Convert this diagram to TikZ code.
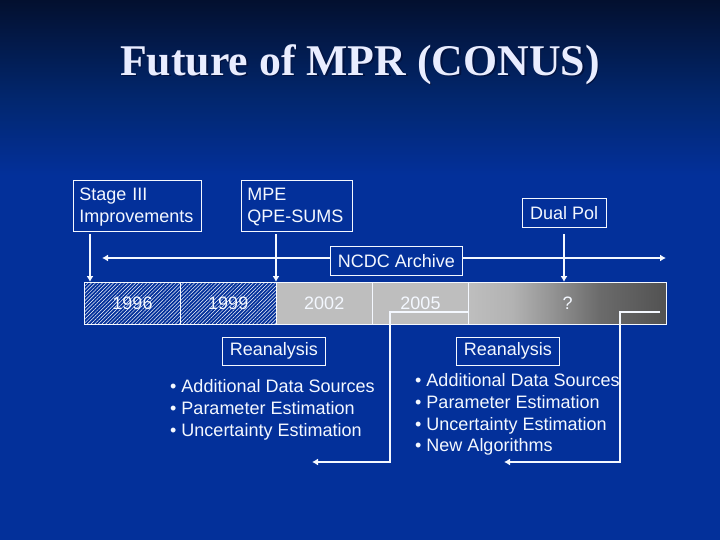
\documentclass[tikz,border=0pt]{standalone}
\usepackage{fontspec}
\setmainfont{Liberation Sans}
\newfontfamily\titlefont{Liberation Serif}
\usetikzlibrary{arrows.meta,patterns.meta,calc}
\definecolor{bgtop}{HTML}{03102F}
\definecolor{bgmid}{HTML}{02276F}
\definecolor{bgbase}{HTML}{03309A}
\definecolor{ink}{HTML}{F4F8FF}
\definecolor{cellgrey}{HTML}{BEBEBE}
\definecolor{titleink}{HTML}{E9EDFF}
\definecolor{titleshade}{HTML}{02123F}
\pgfdeclarehorizontalshading{futurefade}{100bp}{
  color(0bp)=(cellgrey);
  color(25bp)=(cellgrey);
  color(36bp)=(black!30);
  color(46bp)=(black!42);
  color(58bp)=(black!58);
  color(75bp)=(black!68);
  color(100bp)=(black!68)}
\tikzset{
  x=1pt,y=-1pt,
  labelbox/.style={draw=ink,line width=.9pt,fill=bgbase,text=ink,font=\fontsize{18}{21.7}\selectfont,inner sep=0pt,anchor=north west,align=left},
  link/.style={draw=ink,line width=1.7pt},
  linkarrow/.style={link,-{Latex[length=6pt,width=7pt]}},
  cellbox/.style={draw=ink,line width=.9pt,inner sep=0pt,outer sep=0pt,anchor=north west,minimum height=42pt,text=ink,font=\fontsize{18}{20}\selectfont},
  hatched/.style={pattern={Lines[angle=45,distance=2.6pt,line width=.5pt]},pattern color=ink!85},
  bullets/.style={text=ink,font=\fontsize{18}{21.7}\selectfont,align=left,inner sep=0pt,anchor=north west},
}
\begin{document}
\begin{tikzpicture}
\useasboundingbox (0,0) rectangle (720,540);
\fill[bgbase] (0,0) rectangle (720,540);
\shade[top color=bgtop,bottom color=bgmid] (0,0) rectangle (720,100);
\shade[top color=bgmid,bottom color=bgbase] (0,100) rectangle (720,175);
% title
\node[text=titleshade,font=\titlefont\bfseries\fontsize{43.8}{46}\selectfont] at (361.5,66) {Future of MPR (CONUS)};
\node[text=titleink,font=\titlefont\bfseries\fontsize{43.8}{46}\selectfont] (title) at (360,64.5) {Future of MPR (CONUS)};
% timeline cells
\node[cellbox,minimum width=96pt,hatched] (c96) at (84.5,282.5) {1996};
\node[cellbox,minimum width=95.5pt,hatched] (c99) at (180.5,282.5) {1999};
\node[cellbox,minimum width=96.5pt,fill=cellgrey] (c02) at (276,282.5) {2002};
\node[cellbox,minimum width=96pt,fill=cellgrey] (c05) at (372.5,282.5) {2005};
\node[cellbox,minimum width=198pt,shading=futurefade] (cq) at (468.5,282.5) {?};
% label boxes
\node[labelbox,minimum width=128.5pt,minimum height=51pt,text width=115.5pt,inner xsep=6.5pt] (stage) at (72.5,180) {\rule{0pt}{18.2pt}Stage III\\\strut Improvements};
\node[labelbox,minimum width=111pt,minimum height=51pt,text width=98pt,inner xsep=6.5pt] (mpe) at (240.5,180) {\rule{0pt}{18.2pt}MPE\\\strut QPE-SUMS};
\node[labelbox,minimum width=83.5pt,minimum height=29pt,align=center] (dual) at (522,198.5) {Dual Pol};
\node[labelbox,minimum width=132pt,minimum height=29pt,align=center] (ncdc) at (330,246) {NCDC Archive};
\node[labelbox,minimum width=103pt,minimum height=28.5pt,align=center] (re1) at (222,336.5) {Reanalysis};
\node[labelbox,minimum width=103pt,minimum height=28.5pt,align=center] (re2) at (456,336.5) {Reanalysis};
% bullet lists
\node[bullets] (list1) at (170,379.5) {• Additional Data Sources\\• Parameter Estimation\\• Uncertainty Estimation};
\node[bullets] (list2) at (415,373.5) {• Additional Data Sources\\• Parameter Estimation\\• Uncertainty Estimation\\• New Algorithms};
% coordinates
\coordinate (ncdcL) at (102,258);
\coordinate (ncdcR) at (666,258);
\coordinate (s1) at (90,234);\coordinate (s2) at (90,282);
\coordinate (m1) at (276,234);\coordinate (m2) at (276,282);
\coordinate (d1) at (564,234);\coordinate (d2) at (564,282);
\coordinate (a1) at (468,312);\coordinate (a2) at (390,312);\coordinate (a3) at (390,462);\coordinate (a4) at (312,462);
\coordinate (b1) at (660,312);\coordinate (b2) at (620,312);\coordinate (b3) at (620,462);\coordinate (b4) at (504,462);
% connectors
\draw[linkarrow] (ncdc.west |- ncdcL) -- (ncdcL);
\draw[linkarrow] (ncdc.east |- ncdcR) -- (ncdcR);
\draw[linkarrow] (s1) -- (s2);
\draw[linkarrow] (m1) -- (m2);
\draw[linkarrow] (d1) -- (d2);
\draw[linkarrow] (a1) -- (a2) -- (a3) -- (a4);
\draw[linkarrow] (b1) -- (b2) -- (b3) -- (b4);
\end{tikzpicture}
\end{document}
